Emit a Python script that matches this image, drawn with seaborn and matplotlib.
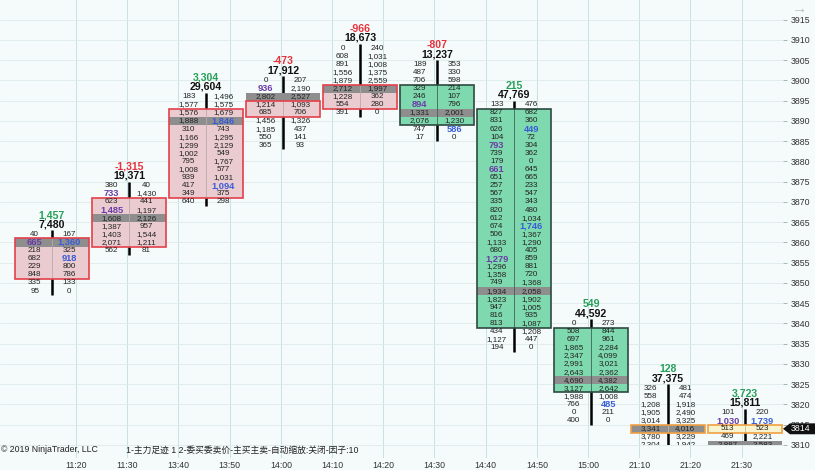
import matplotlib
matplotlib.use("Agg")
import matplotlib.pyplot as plt
import seaborn as sns
from matplotlib.patches import Rectangle, Polygon
from matplotlib.transforms import Bbox, TransformedBbox, blended_transform_factory

# time axis labels
times = ["11:20", "11:30", "13:40", "13:50", "14:00", "14:10", "14:20",
         "14:30", "14:40", "14:50", "15:00", "21:10", "21:20", "21:30"]

# per-bar summary
totals = [7480, 19371, 29604, 17912, 18673, 13237, 47769, 44592, 37375, 15811]
deltas = [1457, -1315, 3304, -473, -966, -807, 215, 549, 128, 3723]
top_price = [3862, 3874, 3896, 3900, 3908, 3904, 3894, 3840, 3824, 3818]

# bid / ask volume per price row, from the top row downwards (2 points per row)
bids = [
    [40, 665, 218, 682, 229, 848, 335, 95],
    [380, 733, 623, 1485, 1608, 1387, 1403, 2071, 562],
    [183, 1577, 1576, 1888, 310, 1166, 1299, 1002, 795, 1008, 939, 417, 349, 640],
    [0, 936, 2802, 1214, 685, 1456, 1185, 550, 365],
    [0, 608, 891, 1556, 1879, 2712, 1228, 554, 391],
    [189, 487, 706, 329, 246, 894, 1331, 2076, 747, 17],
    [133, 827, 831, 626, 104, 793, 739, 179, 661, 651, 257, 567, 335, 820, 612,
     674, 506, 1133, 680, 1279, 1296, 1358, 749, 1934, 1823, 947, 816, 813, 434, 1127, 194],
    [0, 508, 697, 1865, 2347, 2991, 2643, 4690, 3127, 1988, 766, 0, 400],
    [326, 558, 1208, 1905, 3014, 3341, 3780, 2304],
    [101, 1030, 513, 469, 2887],
]
asks = [
    [167, 1360, 325, 918, 800, 786, 133, 0],
    [40, 1430, 441, 1197, 2126, 957, 1544, 1211, 81],
    [1496, 1575, 1679, 1846, 743, 1295, 2129, 549, 1767, 577, 1031, 1094, 375, 298],
    [207, 2190, 2527, 1093, 706, 1326, 437, 141, 93],
    [240, 1031, 1008, 1375, 2559, 1997, 362, 280, 0],
    [353, 330, 598, 214, 107, 796, 2001, 1230, 586, 0],
    [476, 682, 360, 449, 72, 304, 362, 0, 645, 665, 233, 547, 343, 480, 1034,
     1746, 1367, 1290, 405, 859, 881, 720, 1368, 2058, 1902, 1005, 935, 1087, 1208, 447, 0],
    [273, 844, 961, 2284, 4099, 3021, 2362, 4382, 2642, 1008, 485, 211, 0],
    [481, 474, 1918, 2490, 3325, 4016, 3229, 1942],
    [220, 1739, 523, 2221, 2583],
]

# candle body (price of first and last body row) and its colour
body_top = [3860, 3870, 3892, 3894, 3898, 3898, 3892, 3838, 3814, 3814]
body_bot = [3852, 3860, 3872, 3892, 3894, 3890, 3840, 3824, 3814, 3814]
body_kind = ["down", "down", "down", "down", "down", "up", "up", "up", "flat", "flat"]
poc = [3860, 3866, 3890, 3896, 3898, 3892, 3848, 3826, 3814, 3810]

# imbalance rows (price)
bid_imb = [[3860], [3872, 3868], [], [3898], [], [3894], [3884, 3878, 3856], [], [], [3816]]
ask_imb = [[3860, 3856], [], [3890, 3874], [], [], [3888], [3888, 3864], [3820], [], [3816]]

last_price = 3814
price_ticks = list(range(3810, 3920, 5))

BG = "#f5fafa"
BODY = {"down": ("#e9cbd0", "#e3404a"), "up": ("#7fd9ae", "#2e4a42"),
        "flat": ("#f8f4cf", "#f0a043")}
DIV = {"down": "#b9a9ad", "up": "#3f6356", "flat": "#c9b98a"}

sns.set_theme(style="white")
plt.rcParams["font.family"] = ["Liberation Sans", "Noto Sans CJK SC", "DejaVu Sans"]

fig = plt.figure(figsize=(8.15, 4.7), dpi=100)
fig.patch.set_facecolor(BG)
ax = fig.add_axes([0, 12 / 470, 783 / 815, 458 / 470])
ax.set_facecolor(BG)
ax.set_xlim(-52 / 77, 731 / 77)
ax.set_ylim(3810 - 13 / 4.05, 3810 + 445 / 4.05)
sns.despine(ax=ax, left=True, bottom=True, right=True, top=True)

# footprint panel is cut just below the 3810 row
clip = TransformedBbox(Bbox([[-2, 3810.1], [12, 3940]]), ax.transData)

# grid + axes
ax.set_xticks([(24 + 51.2 * j) / 77 for j in range(len(times))])
ax.set_xticklabels(times)
ax.xaxis.grid(True, color="#c6e2e1", lw=0.7)
ax.yaxis.tick_right()
ax.set_yticks(price_ticks)
ax.set_yticklabels([str(p) for p in price_ticks])
ax.yaxis.grid(True, color="#dcebea", lw=0.6)
ax.tick_params(axis="x", length=0, pad=1.8, labelsize=6.3, labelcolor="#333333")
ax.tick_params(axis="y", right=True, length=3, width=0.6, color="#9aa",
               pad=2.5, labelsize=6.3, labelcolor="#333333")


def txt(x, y, s, **kw):
    t = ax.text(x, y, s, ha="center", va="center", clip_on=True, **kw)
    t.set_clip_box(clip)
    return t


hw = 0.485
for i in range(len(totals)):
    c = i
    kind = body_kind[i]
    n = len(bids[i])
    rows = [top_price[i] - 2 * k for k in range(n)]

    wick = ax.vlines(c, rows[-1] - 1, rows[0] + 1, color="black", lw=1.8, zorder=1)
    wick.set_clip_box(clip)

    fc, ec = BODY[kind]
    ax.add_patch(Rectangle((c - hw, body_bot[i] - 1), 2 * hw, body_top[i] - body_bot[i] + 2,
                           facecolor=fc, edgecolor="none", zorder=2))
    g = Rectangle((c - hw, poc[i] - 1), 2 * hw, 2, facecolor="#8e8e8e",
                  edgecolor="none", zorder=3)
    ax.add_patch(g)
    g.set_clip_box(clip)
    ax.vlines(c, body_bot[i] - 1, body_top[i] + 1, color=DIV[kind], lw=0.6, zorder=3.5)
    ax.add_patch(Rectangle((c - hw, body_bot[i] - 1), 2 * hw, body_top[i] - body_bot[i] + 2,
                           facecolor="none", edgecolor=ec, lw=1.2, zorder=4))

    for p, b, a in zip(rows, bids[i], asks[i]):
        if p in bid_imb[i]:
            txt(c - 0.225, p, f"{b:,}", fontsize=6.7, fontweight="bold", color="#6a3ca8", zorder=5)
        else:
            txt(c - 0.225, p, f"{b:,}", fontsize=5.8, color="#222222", zorder=5)
        if p in ask_imb[i]:
            txt(c + 0.225, p, f"{a:,}", fontsize=6.7, fontweight="bold", color="#3a5cd6", zorder=5)
        else:
            txt(c + 0.225, p, f"{a:,}", fontsize=5.8, color="#222222", zorder=5)

    txt(c, rows[0] + 2.5, f"{totals[i]:,}", fontsize=7.6, fontweight="bold",
        color="#111111", zorder=5)
    txt(c, rows[0] + 4.7, f"{deltas[i]:,}", fontsize=7.6, fontweight="bold",
        color="#27a05a" if deltas[i] > 0 else "#e8323c", zorder=5)

# last price marker on the price scale
bt = blended_transform_factory(fig.transFigure, ax.transData)
marker = Polygon([(783 / 815, last_price), (790 / 815, last_price + 1.35), (1.0, last_price + 1.35),
                  (1.0, last_price - 1.35), (790 / 815, last_price - 1.35)],
                 closed=True, transform=bt, facecolor="#111111", edgecolor="none",
                 clip_on=False, zorder=10)
ax.add_artist(marker)
ax.text(791 / 815, last_price, str(last_price), transform=bt, color="white", fontsize=6.3,
        ha="left", va="center", clip_on=False, zorder=11)

fig.text(0.001, 1 - 450 / 470, "© 2019 NinjaTrader, LLC", fontsize=6.3, color="#222222",
         va="center", ha="left")
fig.text(126 / 815, 1 - 450 / 470, "1-主力足迹 1 2-委买委卖价-主买主卖-自动缩放:关闭-因子:10",
         fontsize=6.3, color="#222222", va="center", ha="left")
fig.text(800 / 815, 1 - 9 / 470, "→", fontsize=11, color="#b8bcbc", ha="center", va="center")

fig.savefig("out.png", dpi=100, facecolor=BG)
